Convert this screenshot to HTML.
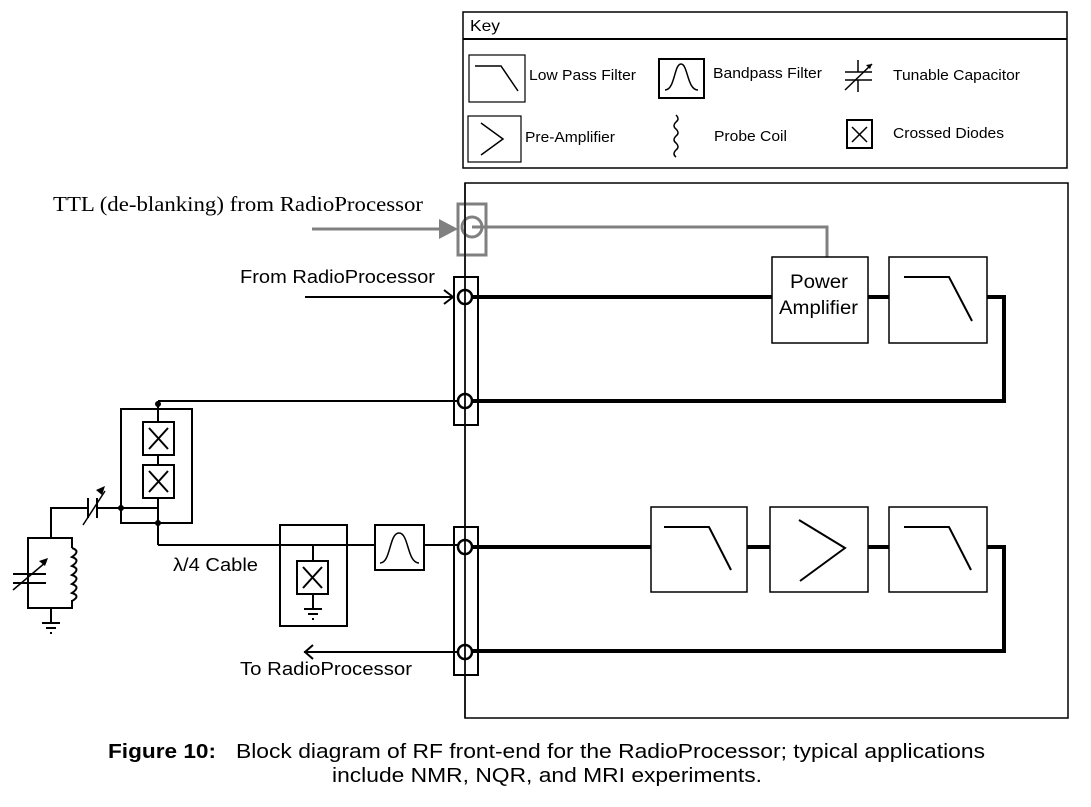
<!DOCTYPE html>
<html><head><meta charset="utf-8"><style>
body{margin:0;background:#fff;}
svg{display:block;}
.s{font-family:"Liberation Sans",sans-serif;}
</style></head><body>
<svg width="1091" height="807" viewBox="0 0 1091 807" xmlns="http://www.w3.org/2000/svg">
<!-- Key -->
<rect x="463" y="12" width="604" height="156" fill="none" stroke="#000" stroke-width="1.5"/>
<line x1="463" y1="39" x2="1067" y2="39" stroke="#000" stroke-width="2"/>
<text x="470" y="31" class="s" font-size="16" textLength="30" lengthAdjust="spacingAndGlyphs">Key</text>
<rect x="469" y="55" width="56" height="47" fill="none" stroke="#000" stroke-width="1.2"/>
<polyline points="475,66 501,66 518,91" fill="none" stroke="#000" stroke-width="1.5"/>
<text x="529" y="80" class="s" font-size="15" textLength="107" lengthAdjust="spacingAndGlyphs">Low Pass Filter</text>
<rect x="659" y="59" width="45" height="39" fill="none" stroke="#000" stroke-width="2"/>
<path d="M665,90 C675,90 674,64 681,64 C688,64 687,90 698,90" fill="none" stroke="#000" stroke-width="1.5"/>
<text x="713" y="78" class="s" font-size="15" textLength="109" lengthAdjust="spacingAndGlyphs">Bandpass Filter</text>
<g stroke="#000" stroke-width="1.5"><line x1="845" y1="72" x2="872" y2="72"/><line x1="845" y1="80" x2="872" y2="80"/><line x1="858" y1="60" x2="858" y2="72"/><line x1="858" y1="80" x2="858" y2="92"/><line x1="845" y1="90" x2="872" y2="64"/></g>
<path d="M872,64 l-6,1 l4,4z" fill="#000"/>
<text x="893" y="80" class="s" font-size="15" textLength="127" lengthAdjust="spacingAndGlyphs">Tunable Capacitor</text>
<rect x="468" y="116" width="53" height="46" fill="none" stroke="#000" stroke-width="1.2"/>
<polyline points="481,123 503,139 481,155" fill="none" stroke="#000" stroke-width="1.5"/>
<text x="525" y="142" class="s" font-size="15" textLength="90" lengthAdjust="spacingAndGlyphs">Pre-Amplifier</text>
<path d="M676,115 q4,4 0,7 q-4,4 0,7 q4,4 0,7 q-4,4 0,7 q4,4 0,7 q-4,4 0,7" fill="none" stroke="#000" stroke-width="1.5"/>
<text x="714" y="141" class="s" font-size="15" textLength="73" lengthAdjust="spacingAndGlyphs">Probe Coil</text>
<rect x="847" y="120" width="25" height="28" fill="none" stroke="#000" stroke-width="2"/>
<path d="M852,127 L867,142 M867,127 L852,142" stroke="#000" stroke-width="1.5"/>
<text x="893" y="138" class="s" font-size="15" textLength="111" lengthAdjust="spacingAndGlyphs">Crossed Diodes</text>

<!-- main box -->
<rect x="465" y="183" width="603" height="535" fill="none" stroke="#000" stroke-width="1.5"/>
<text x="53" y="211" font-family="Liberation Serif,serif" font-size="21" textLength="370" lengthAdjust="spacingAndGlyphs">TTL (de-blanking) from RadioProcessor</text>

<!-- TTL gray -->
<g stroke="#808080" stroke-width="3" fill="none">
<line x1="312" y1="229" x2="445" y2="229"/>
<rect x="458" y="204" width="28" height="51"/>
<circle cx="472" cy="227" r="10"/>
<polyline points="472,227 827,227 827,257"/>
</g>
<path d="M439,219 L458,229 L439,239z" fill="#808080"/>

<line x1="465" y1="183" x2="465" y2="718" stroke="#000" stroke-width="1.5"/>

<!-- From RadioProcessor -->
<text x="240" y="283" class="s" font-size="18" textLength="195" lengthAdjust="spacingAndGlyphs">From RadioProcessor</text>
<line x1="305" y1="297" x2="455" y2="297" stroke="#000" stroke-width="2"/>
<polyline points="444,290 453,297 444,304" fill="none" stroke="#000" stroke-width="2"/>

<!-- Top strip -->
<rect x="454" y="277" width="24" height="148" fill="none" stroke="#000" stroke-width="2"/>
<circle cx="465" cy="297" r="7" fill="none" stroke="#000" stroke-width="2.5"/>
<circle cx="465" cy="401" r="7" fill="none" stroke="#000" stroke-width="2.5"/>
<g stroke="#000" stroke-width="4" fill="none">
<line x1="472" y1="297" x2="772" y2="297"/>
<line x1="868" y1="297" x2="889" y2="297"/>
<polyline points="987,297 1004,297 1004,401 472,401"/>
</g>
<rect x="772" y="257" width="96" height="86" fill="#fff" stroke="#000" stroke-width="1.5"/>
<text x="790" y="288" class="s" font-size="19" textLength="58" lengthAdjust="spacingAndGlyphs">Power</text>
<text x="779" y="314" class="s" font-size="19" textLength="79" lengthAdjust="spacingAndGlyphs">Amplifier</text>
<rect x="889" y="257" width="98" height="86" fill="#fff" stroke="#000" stroke-width="1.5"/>
<polyline points="904,277 949,277 972,321" fill="none" stroke="#000" stroke-width="2"/>

<!-- Bottom strip -->
<rect x="454" y="527" width="24" height="148" fill="none" stroke="#000" stroke-width="2"/>
<circle cx="465" cy="547" r="7" fill="none" stroke="#000" stroke-width="2.5"/>
<circle cx="465" cy="652" r="7" fill="none" stroke="#000" stroke-width="2.5"/>
<g stroke="#000" stroke-width="4" fill="none">
<line x1="472" y1="547" x2="651" y2="547"/>
<line x1="747" y1="547" x2="770" y2="547"/>
<line x1="868" y1="547" x2="889" y2="547"/>
<polyline points="987,547 1004,547 1004,651 472,651"/>
</g>
<rect x="651" y="507" width="96" height="85" fill="#fff" stroke="#000" stroke-width="1.5"/>
<polyline points="664,527 709,527 731,570" fill="none" stroke="#000" stroke-width="2"/>
<rect x="770" y="507" width="98" height="85" fill="#fff" stroke="#000" stroke-width="1.5"/>
<polyline points="799,520 845,548 800,581" fill="none" stroke="#000" stroke-width="2"/>
<rect x="889" y="507" width="98" height="85" fill="#fff" stroke="#000" stroke-width="1.5"/>
<polyline points="904,527 949,527 971,570" fill="none" stroke="#000" stroke-width="2"/>

<!-- To RadioProcessor -->
<line x1="304" y1="652" x2="458" y2="652" stroke="#000" stroke-width="2"/>
<polyline points="313,645 305,652 313,659" fill="none" stroke="#000" stroke-width="2"/>
<text x="240" y="675" class="s" font-size="18" textLength="172" lengthAdjust="spacingAndGlyphs">To RadioProcessor</text>

<!-- left circuitry -->
<g stroke="#000" stroke-width="2" fill="none">
<line x1="158" y1="401" x2="458" y2="401"/>
<rect x="121" y="409" width="71" height="114"/>
<line x1="158" y1="401" x2="158" y2="545"/>
<line x1="121" y1="508" x2="158" y2="508"/>
<polyline points="158,545 458,545"/>
<rect x="143" y="422" width="31" height="33" fill="#fff"/>
<rect x="143" y="465" width="31" height="33" fill="#fff"/>
<path d="M149,428 L168,449 M168,428 L149,449 M149,471 L168,492 M168,471 L149,492"/>
<polyline points="51,538 51,508 87,508"/>
<line x1="97" y1="508" x2="121" y2="508"/>
<line x1="88" y1="498" x2="88" y2="518"/>
<line x1="97" y1="498" x2="97" y2="518"/>
<line x1="83" y1="525" x2="105" y2="491" stroke-width="1.5"/>
<polyline points="72,548 72,538 28,538 28,608 72,608 72,600"/>
<path d="M72,548 q9,3 0,9 q9,3 0,9 q9,3 0,9 q9,3 0,9 q9,3 0,9 q9,3 0,8"/>
<line x1="13" y1="574" x2="46" y2="574"/>
<line x1="13" y1="583" x2="46" y2="583"/>
<line x1="13" y1="590" x2="46" y2="562" stroke-width="1.5"/>
<line x1="51" y1="608" x2="51" y2="622"/>
<line x1="42" y1="623" x2="60" y2="623"/>
<line x1="46" y1="628" x2="56" y2="628"/>
<line x1="50" y1="633" x2="52" y2="633"/>
<rect x="280" y="525" width="67" height="101"/>
<line x1="313" y1="545" x2="313" y2="561"/>
<rect x="297" y="561" width="31" height="33" fill="#fff"/>
<path d="M303,567 L322,588 M322,567 L303,588"/>
<line x1="313" y1="594" x2="313" y2="608"/>
<line x1="304" y1="609" x2="322" y2="609"/>
<line x1="308" y1="614" x2="318" y2="614"/>
<line x1="312" y1="619" x2="314" y2="619"/>
<rect x="375" y="525" width="49" height="45" fill="#fff"/>
<path d="M380,563 C391,563 389,533 399,533 C409,533 407,563 419,563" stroke-width="1.5"/>
</g>
<path d="M96,490 l9,-4 l-3,9z" fill="#000"/>
<path d="M39,561 l9,-3 l-3,8z" fill="#000"/>
<circle cx="158" cy="404" r="3" fill="#000"/>
<circle cx="121" cy="508" r="3" fill="#000"/>
<circle cx="158" cy="523" r="3" fill="#000"/>
<text x="173" y="571" class="s" font-size="18" textLength="85" lengthAdjust="spacingAndGlyphs">λ/4 Cable</text>

<!-- caption -->
<text x="108" y="758" class="s" font-size="20" font-weight="bold" textLength="108" lengthAdjust="spacingAndGlyphs">Figure 10:</text>
<text x="236" y="758" class="s" font-size="20" textLength="749" lengthAdjust="spacingAndGlyphs">Block diagram of RF front-end for the RadioProcessor; typical applications</text>
<text x="332" y="782" class="s" font-size="20" textLength="430" lengthAdjust="spacingAndGlyphs">include NMR, NQR, and MRI experiments.</text>
</svg>
</body></html>
